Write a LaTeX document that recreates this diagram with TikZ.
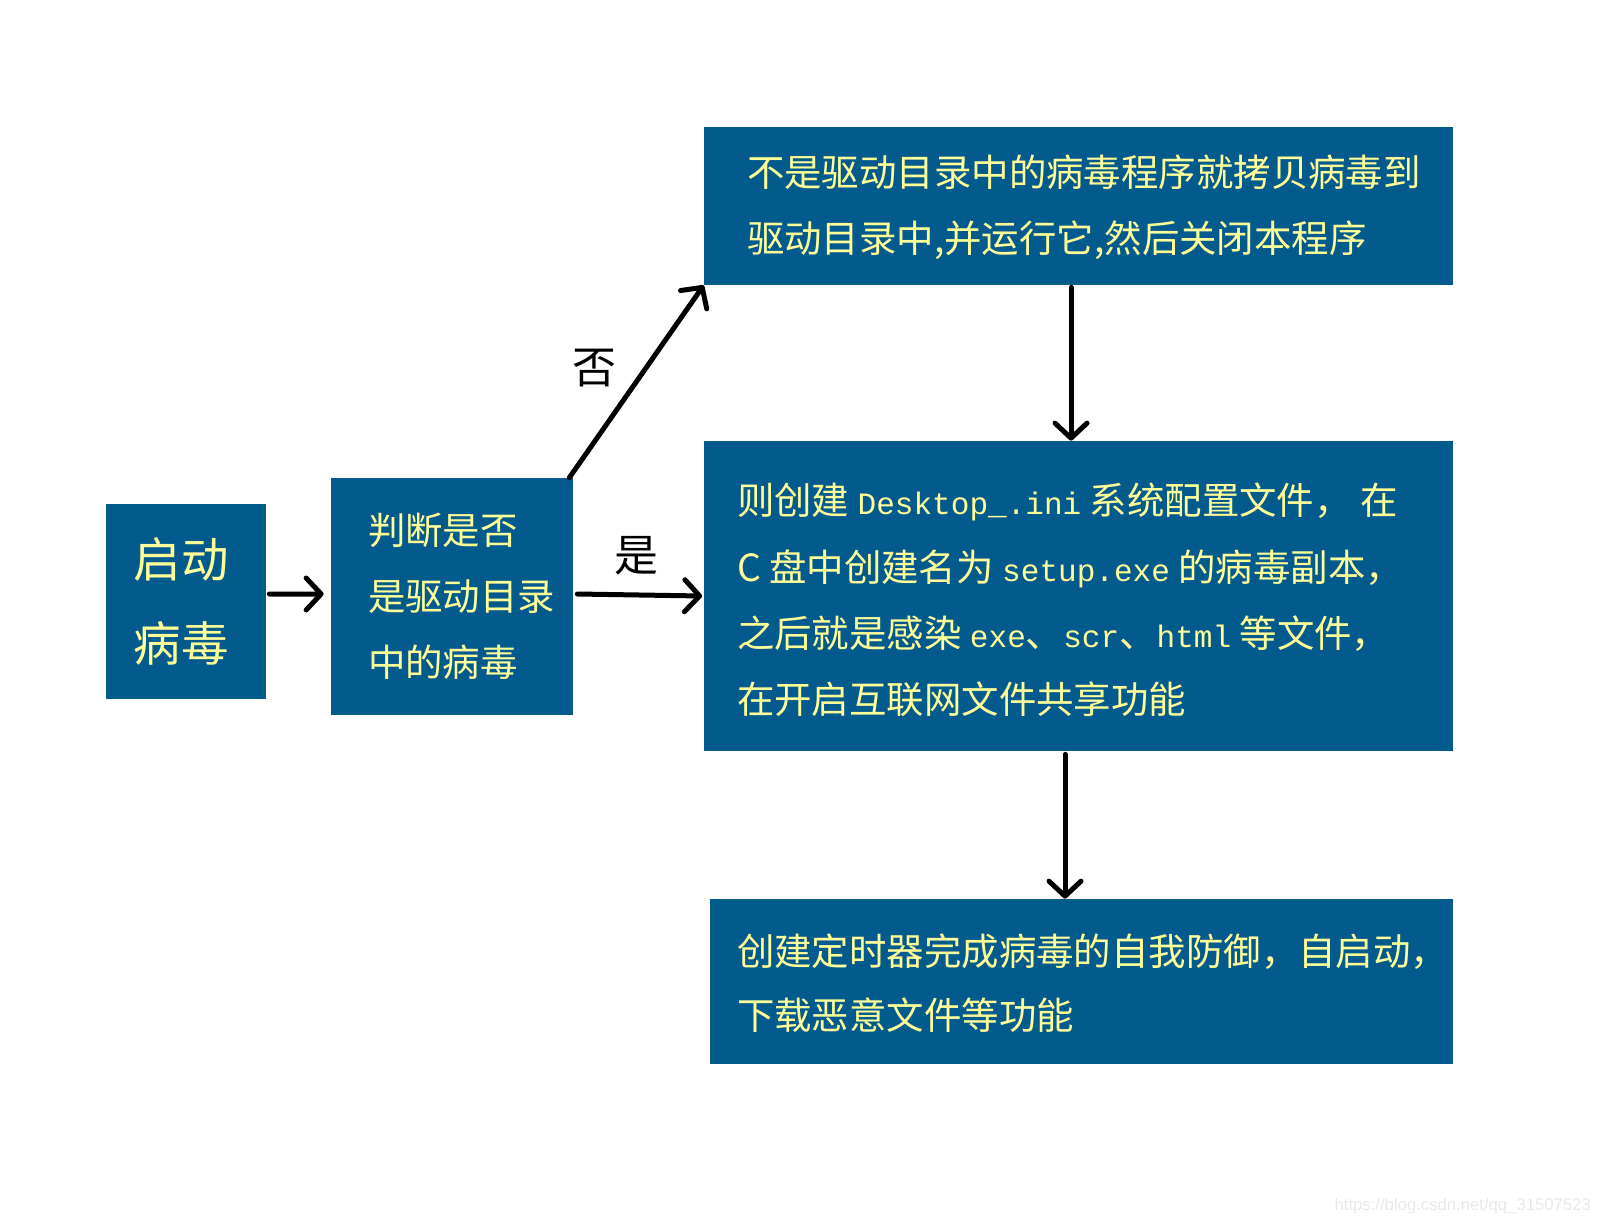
\documentclass[tikz,border=0pt]{standalone}
\usepackage{fontspec}
\setmainfont{Noto Sans CJK SC}
\newfontfamily\monolat{Liberation Mono}[Scale=0.83]
\newfontfamily\urlfont{Liberation Sans}
\usetikzlibrary{positioning, calc, arrows.meta}
\definecolor{Box}{HTML}{035A8C}
\definecolor{Txt}{HTML}{FFFF99}
\tikzset{
    stepbox/.style={rectangle, fill=Box, inner sep=0pt},
    boxtext/.style={text=Txt, align=left, inner sep=0pt, font=\fontsize{21.3}{37.5}\selectfont},
    flow/.style={-{Straight Barb[length=3mm, width=6.4mm, round]}, line width=1mm, line cap=round, color=black},
    branch/.style={text=black, font=\fontsize{25}{25}\selectfont},
}

\begin{document}
\begin{tikzpicture}[x=0.2mm, y=-0.2mm]
    \useasboundingbox (0,0) rectangle (1603,1224);

    % --- Blocchi ---
    \node[stepbox, minimum width=32mm, minimum height=39mm] (start) at (186, 601.5) {};
    \node[stepbox, minimum width=48.4mm, minimum height=47.4mm] (judge) at (452, 596.5) {};
    \node[stepbox, minimum width=149.8mm, minimum height=31.6mm] (copy) at (1078.5, 206) {};
    \node[stepbox, minimum width=149.8mm, minimum height=62mm] (infect) at (1078.5, 596) {};
    \node[stepbox, minimum width=148.6mm, minimum height=33mm] (timer) at (1081.5, 981.5) {};

    % --- Testi ---
    \node[boxtext, font=\fontsize{27}{48}\selectfont] (startT) at ([xshift=-1mm]start.center) {启动\\病毒};
    \node[boxtext, anchor=west] (judgeT) at ([xshift=7.4mm]judge.west) {判断是否\\是驱动目录\\中的病毒};
    \node[boxtext, anchor=west] (copyT) at ([xshift=8.6mm, yshift=-0.2mm]copy.west)
        {不是驱动目录中的病毒程序就拷贝病毒到\\驱动目录中,并运行它,然后关闭本程序};
    \node[boxtext, anchor=west, font=\fontsize{21.3}{37.7}\selectfont] (infectT) at ([xshift=6.6mm, yshift=-0.8mm]infect.west)
        {则创建 {\monolat Desktop\_.ini} 系统配置文件， 在\\
         C 盘中创建名为 {\monolat setup.exe} 的病毒副本，\\
         之后就是感染 {\monolat exe}、{\monolat scr}、{\monolat html} 等文件，\\
         在开启互联网文件共享功能};
    \node[boxtext, anchor=west, font=\fontsize{21.3}{36.5}\selectfont] (timerT) at ([xshift=5.4mm, yshift=-0.3mm]timer.west)
        {创建定时器完成病毒的自我防御，自启动，\\下载恶意文件等功能};

    % --- Frecce ---
    \draw[flow] ([xshift=0.6mm, yshift=1.5mm]start.east) -- ([xshift=-1.4mm, yshift=0.5mm]judge.west);
    \draw[flow] ([xshift=0.8mm, yshift=0.5mm]judge.east) -- ([xshift=-0.3mm]infect.west);
    \draw[flow] ([xshift=-0.8mm]judge.north east) -- (copy.south west)
        node[branch, pos=0.57, left=4.2mm] (no) {否};
    \node[branch] (yes) at (636, 556) {是};
    \draw[flow] ([xshift=-1.5mm, yshift=-0.4mm]copy.south) -- ([xshift=-1.5mm]infect.north);
    \draw[flow] ([xshift=-2.7mm, yshift=-0.6mm]infect.south) -- ([xshift=-2.7mm]infect.south |- timer.north);

    % --- Watermark ---
    \node[text=gray!18, font=\urlfont\fontsize{9.5}{10}\selectfont, anchor=east] (mark) at (1597, 1206) {https://blog.csdn.net/qq\_31507523};
\end{tikzpicture}
\end{document}
